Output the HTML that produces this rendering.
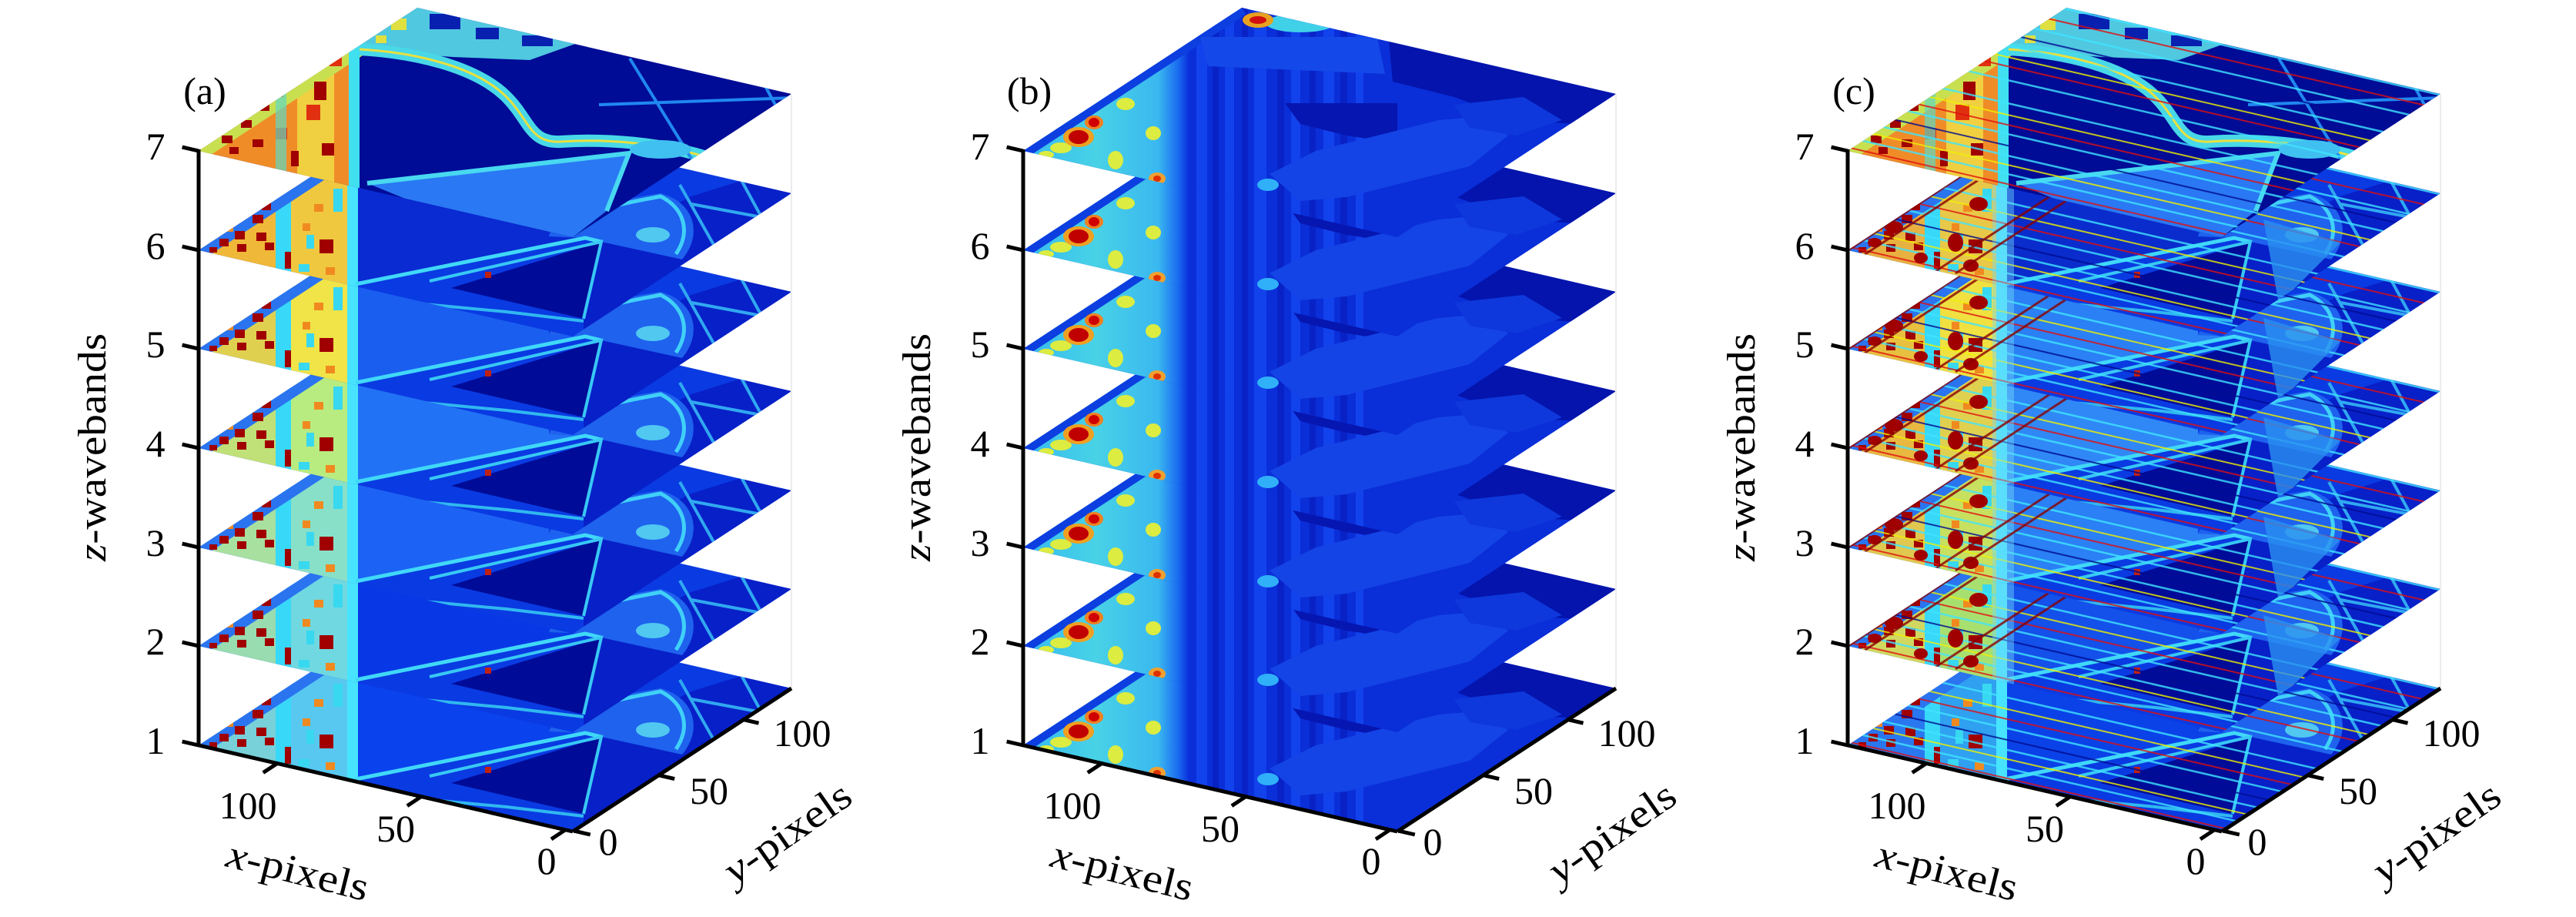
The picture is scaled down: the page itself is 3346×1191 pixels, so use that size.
<!DOCTYPE html>
<html><head><meta charset="utf-8"><style>
html,body{margin:0;padding:0;background:#fff;width:3346px;height:1191px;overflow:hidden;}
svg{display:block}
text{font-family:"Liberation Serif","DejaVu Serif",serif;fill:#000;}
</style></head><body>
<svg xmlns="http://www.w3.org/2000/svg" xmlns:xlink="http://www.w3.org/1999/xlink" width="3346" height="1191" viewBox="0 0 3346 1191">
<defs>
<clipPath id="cp"><polygon points="0,0 284,-186 770,-74 486,112"/></clipPath>
<linearGradient id="gB" x1="0" y1="0" x2="1" y2="0">
<stop offset="0" stop-color="#34b8f0"/><stop offset="0.45" stop-color="#48d2e6"/><stop offset="0.82" stop-color="#3ab8f0"/><stop offset="0.94" stop-color="#1a6af0"/><stop offset="1" stop-color="#0a30dc"/>
</linearGradient>

<g id="sq">
<g fill="#a00000">
<rect x="70" y="-46" width="14" height="11"/><rect x="47" y="-25" width="13" height="11"/>
<rect x="75" y="-23" width="13" height="11"/><rect x="27" y="-15" width="12" height="10"/>
<rect x="50" y="-8" width="12" height="10"/><rect x="86" y="-10" width="12" height="10"/>
<rect x="112" y="2" width="8" height="22"/><rect x="157" y="-14" width="18" height="18"/>
<rect x="82" y="-62" width="12" height="10"/><rect x="14" y="-4" width="10" height="7"/>
</g>
<g fill="#f08a20">
<rect x="150" y="-60" width="12" height="10"/><rect x="165" y="22" width="12" height="10"/>
<rect x="60" y="-60" width="10" height="8"/><rect x="35" y="-32" width="10" height="8"/>
<rect x="135" y="-35" width="10" height="10"/>
</g>
<g fill="#38d8f0">
<rect x="140" y="-20" width="10" height="18"/><rect x="175" y="-80" width="12" height="30"/>
<rect x="130" y="18" width="14" height="10"/>
</g>
</g>

<!-- panel a lower slices -->
<g id="tA">
<rect x="-5" y="-200" width="800" height="330" fill="#0a3ae2"/>
<rect x="-5" y="-200" width="105" height="330" style="fill:var(--w1)"/>
<rect x="100" y="-200" width="20" height="330" fill="#38d8f8"/>
<rect x="120" y="-200" width="75" height="330" style="fill:var(--w2)"/>
<line x1="0" y1="0" x2="284" y2="-186" stroke="#2a74f0" stroke-width="26"/>
<use xlink:href="#sq"/>
<rect x="193" y="-200" width="14" height="330" fill="#48e4ff"/>
<polygon points="207,-200 455,-200 455,-18 502,-16 207,44" style="fill:var(--lake)"/>
<polygon points="523,-11 640,-70 800,-120 800,130 500,130 500,89" fill="#0820c8"/>
<path d="M455,-18 C465,-45 520,-62 600,-74 C645,-62 655,-20 628,12 L523,-11 L502,-16 Z" fill="#1e62ee"/>
<path d="M470,-30 C510,-55 560,-62 600,-70 C630,-55 640,-25 620,5" fill="none" stroke="#40d0f8" stroke-width="5"/>
<polygon points="328,49 523,-11 500,89" fill="#000c98"/>
<polyline points="204,44 502,-16 523,-11" fill="none" stroke="#40d8f8" stroke-width="5"/>
<polyline points="300,40 523,-11 500,89" fill="none" stroke="#38c8f4" stroke-width="4"/>
<polyline points="250,66 400,80 500,92" fill="none" stroke="#30b8f0" stroke-width="4"/>
<path d="M625,-85 L690,30 M640,-60 L800,-30 M700,-100 L760,10" fill="none" stroke="#30a8f0" stroke-width="4"/>
<ellipse cx="590" cy="-20" rx="22" ry="10" fill="#50c8f0"/>
<rect x="372" y="28" width="8" height="8" fill="#c02010"/>
</g>

<!-- panel a top slice -->
<g id="tA7">
<rect x="-5" y="-200" width="800" height="330" fill="#000c96"/>
<rect x="-5" y="-200" width="205" height="330" fill="#f08c28"/>
<rect x="128" y="-200" width="48" height="330" fill="#f0d040"/>
<line x1="0" y1="0" x2="284" y2="-186" stroke="#c8e050" stroke-width="26"/>
<g fill="#a00000">
<rect x="30" y="-20" width="14" height="10"/><rect x="55" y="-40" width="14" height="10"/>
<rect x="80" y="-62" width="12" height="10"/><rect x="40" y="-5" width="12" height="9"/>
<rect x="70" y="-15" width="14" height="10"/><rect x="110" y="-120" width="12" height="30"/>
<rect x="150" y="-90" width="16" height="24"/><rect x="160" y="-10" width="16" height="16"/>
<rect x="120" y="0" width="10" height="20"/><rect x="135" y="-150" width="20" height="12"/>
</g>
<g fill="#e03010">
<rect x="90" y="-100" width="20" height="30"/><rect x="140" y="-60" width="18" height="20"/>
<rect x="100" y="-30" width="15" height="15"/><rect x="170" y="-130" width="16" height="20"/>
</g>
<rect x="100" y="-200" width="14" height="330" fill="#60d8c0" opacity="0.7"/>
<rect x="195" y="-200" width="14" height="330" fill="#40e0f0"/>
<polygon points="209,-200 520,-200 520,-150 430,-118 330,-122 250,-128 209,-135" fill="#50c8e0"/>
<g fill="#0820b0"><rect x="300" y="-178" width="40" height="20"/><rect x="360" y="-160" width="30" height="15"/><rect x="420" y="-150" width="40" height="14"/></g>
<g fill="#e0e040"><rect x="250" y="-172" width="20" height="15"/><rect x="230" y="-150" width="14" height="10"/></g>
<polygon points="219,42 559,3 530,78 486,112 300,75" fill="#2a78f4"/>
<polyline points="219,42 559,3 530,78" fill="none" stroke="#48d8f0" stroke-width="6"/>
<path d="M209,-132 C280,-128 360,-110 400,-70 C430,-40 430,-10 470,-12 C530,-16 600,-10 660,8" fill="none" stroke="#48d8e8" stroke-width="16"/>
<path d="M209,-132 C280,-128 360,-110 400,-70 C430,-40 430,-10 470,-12 C530,-16 600,-10 660,8" fill="none" stroke="#e8e040" stroke-width="3"/>
<path d="M560,-120 L640,10 M600,-170 L800,-120 M700,-150 L760,-40 M520,-60 L800,-70" fill="none" stroke="#2088f0" stroke-width="4"/>
<ellipse cx="600" cy="-2" rx="40" ry="12" fill="#40c0f0"/>
</g>

<!-- panel b -->
<g id="tB">
<rect x="-5" y="-200" width="800" height="330" fill="#0a2ed8"/>
<g fill="#1242ec"><rect x="225" y="-200" width="14" height="330"/><rect x="262" y="-200" width="12" height="330"/><rect x="300" y="-200" width="16" height="330"/><rect x="348" y="-200" width="12" height="330"/><rect x="390" y="-200" width="14" height="330"/><rect x="432" y="-200" width="10" height="330"/></g>
<g fill="#0822c6"><rect x="246" y="-200" width="8" height="330"/><rect x="284" y="-200" width="8" height="330"/><rect x="330" y="-200" width="9" height="330"/><rect x="372" y="-200" width="8" height="330"/><rect x="412" y="-200" width="9" height="330"/></g>
<rect x="-5" y="-200" width="220" height="330" fill="url(#gB)"/>
<line x1="0" y1="0" x2="284" y2="-186" stroke="#0c3ee0" stroke-width="20"/>
<g fill="#dcec40">
<ellipse cx="49" cy="-4" rx="14" ry="7"/><ellipse cx="120" cy="12" rx="10" ry="12"/>
<ellipse cx="133" cy="-61" rx="12" ry="8"/><ellipse cx="169" cy="-23" rx="10" ry="9"/>
<ellipse cx="100" cy="-80" rx="10" ry="7"/><ellipse cx="150" cy="-110" rx="10" ry="7"/>
<ellipse cx="30" cy="5" rx="10" ry="5"/><ellipse cx="175" cy="-150" rx="8" ry="10"/>
</g>
<ellipse cx="72" cy="-18" rx="20" ry="13" fill="#f0a020"/>
<ellipse cx="72" cy="-18" rx="13" ry="9" fill="#c00000"/>
<ellipse cx="92" cy="-37" rx="12" ry="9" fill="#f08020"/>
<ellipse cx="92" cy="-37" rx="7" ry="6" fill="#d00000"/>
<ellipse cx="174" cy="36" rx="11" ry="8" fill="#f0a030"/>
<ellipse cx="174" cy="36" rx="5" ry="4" fill="#e03000"/>
<polygon points="470,-200 800,-200 800,-30 640,-40 560,-70 480,-90" fill="#0414ac"/>
<polygon points="340,-62 486,-62 486,-10 420,-20 360,-35" fill="#0616b0"/>
<polygon points="320,30 380,0 460,-20 540,-40 600,-45 630,-20 580,20 500,40 420,60 360,65" fill="#1444e6"/>
<polygon points="560,-60 650,-70 700,-40 640,-20 580,-30" fill="#0e38dc"/>
<ellipse cx="318" cy="44" rx="14" ry="8" fill="#30b0f8"/>
</g>
<g id="tB7top">
<ellipse cx="360" cy="-166" rx="45" ry="12" fill="#40d0e8"/>
<ellipse cx="305" cy="-170" rx="20" ry="10" fill="#e8a020"/>
<ellipse cx="305" cy="-170" rx="11" ry="5" fill="#d01010"/>
<polygon points="230,-148 460,-148 470,-100 240,-110" fill="#1448e8"/>
</g>

<!-- panel c stripes -->
<g id="strC" fill="none" opacity="0.8">
<g stroke="#40e4ff" stroke-width="2.5">
<line x1="-10" y1="-312" x2="790" y2="-128"/><line x1="-10" y1="-252" x2="790" y2="-68"/>
<line x1="-10" y1="-217" x2="790" y2="-33"/><line x1="-10" y1="-187" x2="790" y2="-3"/>
<line x1="-10" y1="-142" x2="790" y2="42"/><line x1="-10" y1="-112" x2="790" y2="72"/>
<line x1="-10" y1="-72" x2="790" y2="112"/><line x1="-10" y1="-44" x2="790" y2="140"/>
<line x1="-10" y1="-20" x2="790" y2="164"/><line x1="-10" y1="18" x2="790" y2="202"/>
<line x1="-10" y1="48" x2="790" y2="232"/><line x1="-10" y1="93" x2="790" y2="277"/>
</g>
<g stroke="#000c90" stroke-width="2">
<line x1="-10" y1="-202" x2="790" y2="-18"/><line x1="-10" y1="-57" x2="790" y2="127"/>
</g>
<g stroke="#f0f000" stroke-width="2">
<line x1="-10" y1="-272" x2="790" y2="-88"/><line x1="-10" y1="-172" x2="790" y2="12"/>
<line x1="-10" y1="-97" x2="790" y2="87"/><line x1="-10" y1="-32" x2="790" y2="152"/>
</g>
<g stroke="#e01010" stroke-width="2">
<line x1="-10" y1="-234" x2="790" y2="-50"/><line x1="-10" y1="-160" x2="790" y2="24"/>
<line x1="-10" y1="-84" x2="790" y2="100"/><line x1="-10" y1="-7" x2="790" y2="177"/>
</g>
</g>
<g id="extC">
<rect x="188" y="-200" width="28" height="330" fill="#70d8f8" opacity="0.45"/>
<polygon points="540,-40 640,-10 560,70" fill="#2a90f0" opacity="0.8"/>
<g fill="#a00000"><ellipse cx="60" cy="-30" rx="12" ry="8"/><ellipse cx="140" cy="-10" rx="10" ry="12"/><ellipse cx="170" cy="-60" rx="12" ry="9"/><ellipse cx="95" cy="10" rx="9" ry="7"/><ellipse cx="35" cy="-10" rx="9" ry="6"/><ellipse cx="160" cy="20" rx="10" ry="8"/></g>
<g stroke="#8a0000" stroke-width="3" opacity="0.8">
<line x1="-30" y1="20" x2="254" y2="-166"/><line x1="0" y1="20" x2="284" y2="-166"/><line x1="110" y1="30" x2="394" y2="-156"/><line x1="140" y1="30" x2="424" y2="-156"/>
</g>
</g>
</defs>

<!-- ============ PANEL A ============ -->
<g transform="translate(258,968)" clip-path="url(#cp)"><use xlink:href="#tA" style="--w1:#78d0d8;--w2:#58c8f0;--lake:#0a42ee"/></g>
<g transform="translate(258,839)" clip-path="url(#cp)"><use xlink:href="#tA" style="--w1:#98dcb0;--w2:#70d8e0;--lake:#0838e6"/></g>
<g transform="translate(258,711)" clip-path="url(#cp)"><use xlink:href="#tA" style="--w1:#a8e0a0;--w2:#88e0c8;--lake:#1c62f4"/></g>
<g transform="translate(258,582)" clip-path="url(#cp)"><use xlink:href="#tA" style="--w1:#c0e078;--w2:#b8ec80;--lake:#2272f6"/></g>
<g transform="translate(258,453)" clip-path="url(#cp)"><use xlink:href="#tA" style="--w1:#e0d050;--w2:#f0e448;--lake:#1a5ef0"/></g>
<g transform="translate(258,325)" clip-path="url(#cp)"><use xlink:href="#tA" style="--w1:#f0b838;--w2:#f0c840;--lake:#0a2ad2"/></g>
<g transform="translate(258,196)" clip-path="url(#cp)"><use xlink:href="#tA7"/></g>

<!-- ============ PANEL B ============ -->
<g transform="translate(1329,968)" clip-path="url(#cp)"><use xlink:href="#tB"/></g>
<g transform="translate(1329,839)" clip-path="url(#cp)"><use xlink:href="#tB"/></g>
<g transform="translate(1329,711)" clip-path="url(#cp)"><use xlink:href="#tB"/></g>
<g transform="translate(1329,582)" clip-path="url(#cp)"><use xlink:href="#tB"/></g>
<g transform="translate(1329,453)" clip-path="url(#cp)"><use xlink:href="#tB"/></g>
<g transform="translate(1329,325)" clip-path="url(#cp)"><use xlink:href="#tB"/></g>
<g transform="translate(1329,196)" clip-path="url(#cp)"><use xlink:href="#tB"/><use xlink:href="#tB7top"/></g>

<!-- ============ PANEL C ============ -->
<g transform="translate(2400,968)" clip-path="url(#cp)"><use xlink:href="#tA" style="--w1:#2a78f0;--w2:#30a0f0;--lake:#0a42e8"/><use xlink:href="#strC"/></g>
<g transform="translate(2400,839)" clip-path="url(#cp)"><use xlink:href="#tA" style="--w1:#d0d860;--w2:#a8e070;--lake:#1450ea"/><use xlink:href="#strC"/><use xlink:href="#extC"/></g>
<g transform="translate(2400,711)" clip-path="url(#cp)"><use xlink:href="#tA" style="--w1:#e0c850;--w2:#c8e060;--lake:#2a80f4"/><use xlink:href="#strC"/><use xlink:href="#extC"/></g>
<g transform="translate(2400,582)" clip-path="url(#cp)"><use xlink:href="#tA" style="--w1:#e8b840;--w2:#e0d050;--lake:#3088f6"/><use xlink:href="#strC"/><use xlink:href="#extC"/></g>
<g transform="translate(2400,453)" clip-path="url(#cp)"><use xlink:href="#tA" style="--w1:#e8c040;--w2:#f0e040;--lake:#2a80f4"/><use xlink:href="#strC"/><use xlink:href="#extC"/></g>
<g transform="translate(2400,325)" clip-path="url(#cp)"><use xlink:href="#tA" style="--w1:#e8b040;--w2:#e8c848;--lake:#0a2ccc"/><use xlink:href="#strC"/><use xlink:href="#extC"/></g>
<g transform="translate(2400,196)" clip-path="url(#cp)"><use xlink:href="#tA7"/><use xlink:href="#strC"/></g>

<!-- ============ AXES ============ -->
<g id="axA" transform="translate(258,0)">
<line x1="770" y1="122" x2="770" y2="894" stroke="#ececec" stroke-width="2"/>
<g stroke="#000" stroke-width="5" fill="none">
<line x1="0" y1="194" x2="0" y2="970"/>
<line x1="0" y1="968" x2="486" y2="1080"/>
<line x1="486" y1="1080" x2="770" y2="894"/>
<path d="M0,968 l-21.4,-4.9 M0,839 l-21.4,-4.9 M0,711 l-21.4,-4.9 M0,582 l-21.4,-4.9 M0,453 l-21.4,-4.9 M0,325 l-21.4,-4.9 M0,196 l-21.4,-4.9"/>
<path d="M476.3,1077.8 l-18.3,12.1 M289.2,1034.6 l-18.3,12.1 M102.1,991.5 l-18.3,12.1"/>
<path d="M487.4,1079.1 l21.4,4.9 M596.8,1006.7 l21.4,4.9 M706.1,934.3 l21.4,4.9"/>
</g>
<g font-size="50" text-anchor="middle">
<text x="-56" y="979">1</text><text x="-56" y="850">2</text><text x="-56" y="722">3</text>
<text x="-56" y="593">4</text><text x="-56" y="464">5</text><text x="-56" y="336">6</text>
<text x="-56" y="207">7</text>
<text x="64" y="1063">100</text><text x="256" y="1093">50</text><text x="452" y="1135">0</text>
<text x="532" y="1110">0</text><text x="663" y="1044">50</text><text x="784" y="969">100</text>
</g>
<text font-size="52" text-anchor="middle" transform="translate(-121,581) rotate(-90)" textLength="296" lengthAdjust="spacingAndGlyphs"><tspan font-style="italic">z</tspan>-wavebands</text>
<text font-size="52" text-anchor="middle" transform="translate(128,1135) rotate(14)" y="13" textLength="188" lengthAdjust="spacingAndGlyphs"><tspan font-style="italic">x</tspan>-pixels</text>
<text font-size="52" text-anchor="middle" transform="translate(767,1085) rotate(-35)" y="13" textLength="190" lengthAdjust="spacingAndGlyphs"><tspan font-style="italic">y</tspan>-pixels</text>
</g>
<use xlink:href="#axA" transform="translate(1071,0)"/>
<use xlink:href="#axA" transform="translate(2142,0)"/>

<g font-size="50" text-anchor="middle">
<text x="266" y="135">(a)</text>
<text x="1337" y="135">(b)</text>
<text x="2408" y="135">(c)</text>
</g>
</svg>
</body></html>
